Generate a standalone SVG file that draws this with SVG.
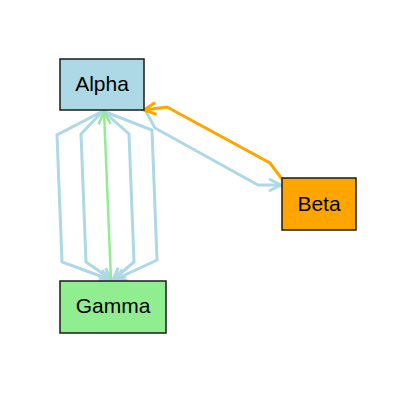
<svg xmlns="http://www.w3.org/2000/svg" width="400" height="400" viewBox="0 0 400 400">
<style>
.node rect{stroke:#1a1a1a;stroke-width:1.5}
.node text{font-family:"Liberation Sans",Arial,sans-serif;font-size:21px;text-anchor:middle;fill:#000}
.edge{fill:none;stroke-width:3;stroke-linejoin:miter}
.blue{stroke:#ADD8E6}
.green{stroke:#90EE90;stroke-width:2.5}
.orange{stroke:#FFA500}
</style>
<defs>
<marker id="ab" markerUnits="userSpaceOnUse" markerWidth="16" markerHeight="16" refX="13" refY="8" orient="auto" viewBox="0 0 16 16">
<path d="M1,2 L13,8 L1,14" fill="none" stroke="#ADD8E6" stroke-width="3"/>
</marker>
<marker id="ag" markerUnits="userSpaceOnUse" markerWidth="16" markerHeight="16" refX="13" refY="8" orient="auto" viewBox="0 0 16 16">
<path d="M1,2 L13,8 L1,14" fill="none" stroke="#90EE90" stroke-width="2.5"/>
</marker>
<marker id="ao" markerUnits="userSpaceOnUse" markerWidth="16" markerHeight="16" refX="13" refY="8" orient="auto" viewBox="0 0 16 16">
<path d="M1,2 L13,8 L1,14" fill="none" stroke="#FFA500" stroke-width="3"/>
</marker>
</defs>
<rect width="400" height="400" fill="#fff"/>
<g id="edges">
<polyline class="edge blue" points="103,111 57,135 62,262 111,280" marker-end="url(#ab)"/>
<polyline class="edge blue" points="103,111 81,134 86,262 112,280" marker-end="url(#ab)"/>
<polyline class="edge blue" points="103,111 129,134 134,262 113,280" marker-end="url(#ab)"/>
<polyline class="edge blue" points="103,111 152,130 157,260 114,280" marker-end="url(#ab)"/>
<polyline class="edge green" points="111,280 104,112" marker-end="url(#ag)"/>
<polyline class="edge blue" points="145,110 155,128 258,185 281,185" marker-end="url(#ab)"/>
<polyline class="edge orange" points="282,179 270,163 167,107 144,110" marker-end="url(#ao)"/>
</g>
<g id="alpha" class="node">
<rect x="60" y="59" width="84" height="51" fill="#ADD8E6"/>
<text x="102" y="91">Alpha</text>
</g>
<g id="beta" class="node">
<rect x="282" y="178" width="74" height="52" fill="#FFA500"/>
<text x="319" y="211">Beta</text>
</g>
<g id="gamma" class="node">
<rect x="60" y="281" width="106" height="52" fill="#90EE90"/>
<text x="113" y="313">Gamma</text>
</g>
</svg>
